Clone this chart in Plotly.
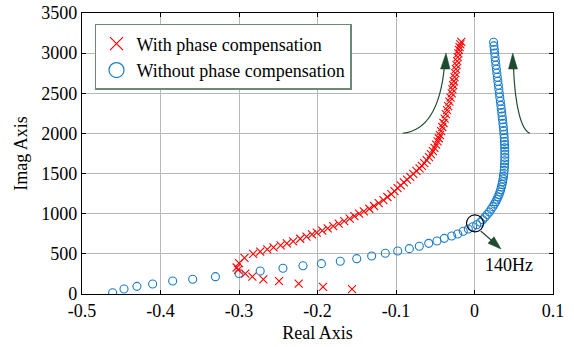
import plotly.graph_objects as go

# Root locus points (real part, imaginary part)
# With phase compensation: low-frequency branch
comp_low_re = [-0.156, -0.193, -0.224, -0.249, -0.269, -0.283, -0.292, -0.301]
comp_low_im = [60, 90, 130, 160, 183, 216, 255, 300]

# With phase compensation: main branch
comp_re = [-0.303, -0.300, -0.293, -0.282, -0.273, -0.264, -0.256, -0.247, -0.239, -0.231,
           -0.222, -0.214, -0.207, -0.201, -0.194, -0.187, -0.180, -0.173, -0.166, -0.159,
           -0.153, -0.147, -0.141, -0.134, -0.128, -0.122, -0.116, -0.111, -0.106, -0.102,
           -0.098, -0.094, -0.090, -0.086, -0.082, -0.078, -0.074, -0.070, -0.067, -0.064,
           -0.061, -0.058, -0.0555, -0.053, -0.051, -0.049, -0.047, -0.0455, -0.044, -0.0425,
           -0.041, -0.0395, -0.038, -0.0365, -0.035, -0.0335, -0.032, -0.0305, -0.029, -0.0281,
           -0.0272, -0.0263, -0.0254, -0.0245, -0.0237, -0.0229, -0.0221, -0.0213, -0.0206, -0.0198,
           -0.019, -0.018, -0.0168]
comp_im = [330, 385, 450, 500, 527, 555, 580, 605, 630, 656,
           688, 716, 742, 765, 790, 818, 845, 876, 907, 940,
           970, 1000, 1030, 1062, 1096, 1132, 1170, 1208, 1245, 1280,
           1318, 1354, 1390, 1425, 1460, 1497, 1534, 1565, 1595, 1630,
           1668, 1705, 1742, 1780, 1820, 1860, 1900, 1940, 1980, 2030,
           2080, 2130, 2185, 2240, 2290, 2340, 2395, 2445, 2500, 2550,
           2600, 2650, 2700, 2750, 2800, 2850, 2900, 2950, 2998, 3040,
           3075, 3110, 3140]

# Without phase compensation
nocomp_re = [-0.461, -0.4465, -0.430, -0.410, -0.3845, -0.359, -0.330, -0.300, -0.273, -0.244,
             -0.2185, -0.195, -0.171, -0.150, -0.131, -0.1136, -0.0978, -0.083, -0.0703, -0.0583,
             -0.0478, -0.0385, -0.029, -0.0214, -0.0143, -0.0079, -0.0023, 0.0028, 0.0074,
             0.0105, 0.0135, 0.0162, 0.0188, 0.0212, 0.0234, 0.0254, 0.0271, 0.0286, 0.0300,
             0.0313, 0.0324, 0.0334, 0.0343, 0.0351, 0.0358, 0.0364, 0.0369, 0.0374, 0.0378,
             0.0381, 0.0383, 0.0385, 0.0386, 0.0386, 0.0386, 0.0385, 0.0383, 0.0381, 0.0378,
             0.0375, 0.0371, 0.0367, 0.0362, 0.0357, 0.0352, 0.0347, 0.0341, 0.0335, 0.0329,
             0.0322, 0.0316, 0.0310, 0.0304, 0.0297, 0.0291, 0.0285, 0.0279, 0.0273, 0.0267,
             0.0262, 0.0257, 0.0252, 0.0247, 0.0243]
nocomp_im = [16, 62, 95, 125, 162, 183, 216, 255, 286, 320,
             351, 378, 407, 440, 473, 507, 536, 565, 594, 631,
             660, 693, 722, 747, 781, 810, 838, 863, 893,
             925, 958, 990, 1022, 1055, 1088, 1120, 1150, 1180, 1210,
             1240, 1270, 1300, 1332, 1365, 1398, 1432, 1466, 1500, 1540,
             1580, 1620, 1660, 1700, 1740, 1780, 1820, 1860, 1900, 1945,
             1990, 2035, 2080, 2125, 2170, 2215, 2260, 2305, 2350, 2400,
             2450, 2500, 2550, 2600, 2650, 2700, 2750, 2800, 2850, 2900,
             2950, 3000, 3045, 3090, 3135]

x_ticks = [-0.5, -0.4, -0.3, -0.2, -0.1, 0, 0.1]
x_tick_labels = ["-0.5", "-0.4", "-0.3", "-0.2", "-0.1", "0", "0.1"]
y_ticks = [0, 500, 1000, 1500, 2000, 2500, 3000, 3500]

RED = "#ff0000"
BLUE = "#1a7cc9"
GREEN = "#1f4a30"
FONT = "Liberation Serif"

fig = go.Figure()

fig.add_trace(go.Scatter(
    x=nocomp_re, y=nocomp_im, mode="markers", showlegend=False,
    marker=dict(symbol="circle-open", size=8, color=BLUE, line=dict(width=1.1, color=BLUE)),
))
fig.add_trace(go.Scatter(
    x=comp_low_re + comp_re, y=comp_low_im + comp_im, mode="markers", showlegend=False,
    marker=dict(symbol="x-thin-open", size=8, color=RED, line=dict(width=1.1, color=RED)),
))

# legend entries with larger symbols
fig.add_trace(go.Scatter(
    x=[None], y=[None], mode="markers", name="With phase compensation", legendgroup="a",
    marker=dict(symbol="x-thin-open", size=13, color=RED, line=dict(width=1.2, color=RED)),
))
fig.add_trace(go.Scatter(
    x=[None], y=[None], mode="markers", name="Without phase compensation", legendgroup="b",
    marker=dict(symbol="circle-open", size=15, color=BLUE, line=dict(width=1.2, color=BLUE)),
))

shapes = [
    # curved arrows showing direction of increasing frequency
    dict(type="path", xref="x", yref="y",
         path="M -0.0915,2002 C -0.0631,2030 -0.0440,2292 -0.0385,2815",
         line=dict(color=GREEN, width=1.2)),
    dict(type="path", xref="x", yref="y",
         path="M -0.0363,3002 L -0.0433,2802 L -0.0312,2802 Z",
         line=dict(color=GREEN, width=0.5), fillcolor=GREEN),
    dict(type="path", xref="x", yref="y",
         path="M 0.0707,2002 C 0.0592,2043 0.0516,2354 0.0497,2815",
         line=dict(color=GREEN, width=1.2)),
    dict(type="path", xref="x", yref="y",
         path="M 0.0487,3002 L 0.0433,2802 L 0.0548,2802 Z",
         line=dict(color=GREEN, width=0.5), fillcolor=GREEN),
    # 140 Hz crossing marker
    dict(type="circle", xref="x", yref="y", xsizemode="pixel", ysizemode="pixel",
         xanchor=0.0006, yanchor=880, x0=-8.5, x1=8.5, y0=-8.5, y1=8.5,
         line=dict(color="black", width=1.1)),
    dict(type="path", xref="x", yref="y",
         path="M 0.0079,785 L 0.0215,670",
         line=dict(color=GREEN, width=1.2)),
    dict(type="path", xref="x", yref="y",
         path="M 0.0338,560 L 0.0172,632 L 0.0248,714 Z",
         line=dict(color=GREEN, width=0.5), fillcolor=GREEN),
]

fig.update_layout(
    width=574, height=347,
    margin=dict(l=82, r=21, t=13, b=53),
    paper_bgcolor="white", plot_bgcolor="white",
    font=dict(family=FONT, size=18, color="black"),
    shapes=shapes,
    annotations=[dict(x=0.0439, y=361, xref="x", yref="y", text="140Hz", showarrow=False,
                      xanchor="center", yanchor="middle", font=dict(family=FONT, size=18))],
    legend=dict(x=0.0276, y=0.961, xanchor="left", yanchor="top",
                bgcolor="white", bordercolor="#6a8a76", borderwidth=1.5,
                font=dict(family=FONT, size=18), traceorder="grouped", tracegroupgap=0),
    xaxis=dict(range=[-0.5, 0.1], tickvals=x_ticks, ticktext=x_tick_labels,
               showgrid=True, gridcolor="#b8b8b8", gridwidth=1, zeroline=False,
               showline=True, linecolor="black", linewidth=1.2, mirror="ticks",
               ticks="inside", ticklen=4, tickcolor="black", automargin=False,
               title=dict(text="Real Axis", standoff=6, font=dict(size=18))),
    yaxis=dict(range=[0, 3500], tickvals=y_ticks,
               showgrid=True, gridcolor="#b8b8b8", gridwidth=1, zeroline=False,
               showline=True, linecolor="black", linewidth=1.2, mirror="ticks",
               ticks="inside", ticklen=4, tickcolor="black", automargin=False,
               title=dict(text="Imag Axis", standoff=8, font=dict(size=18))),
)

fig.write_html("out.html")
